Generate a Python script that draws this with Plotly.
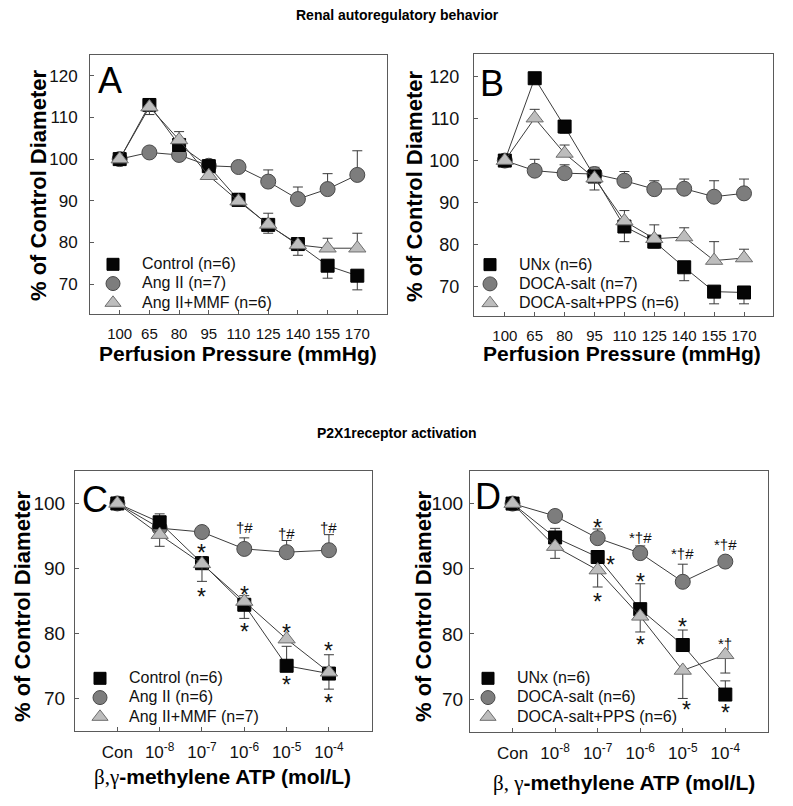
import plotly.graph_objects as go

W, H = 793, 806

# ---------------- data ----------------
pressure = ["100", "65", "80", "95", "110", "125", "140", "155", "170"]
conc = ["Con", "10<sup>-8</sup>", "10<sup>-7</sup>", "10<sup>-6</sup>", "10<sup>-5</sup>", "10<sup>-4</sup>"]

# Panel A
a_names = ["Control (n=6)", "Ang II (n=7)", "Ang II+MMF (n=6)"]
a_control = [100, 113.0, 103.4, 98.3, 90.2, 84.2, 79.6, 74.4, 72.0]
a_control_up = [0, 1.4, 0, 0, 1.6, 0, 1.4, 0, 0]
a_control_dn = [0, 0, 0, 0, 0, 2.0, 0, 3.0, 3.4]
a_ang = [100, 101.6, 101.0, 98.4, 98.1, 94.6, 90.4, 92.8, 96.2]
a_ang_up = [0, 0, 0, 0, 1.4, 2.8, 2.9, 3.7, 5.8]
a_ang_dn = [0, 0, 0, 0, 0, 0, 0, 0, 0]
a_mmf = [100, 112.5, 104.6, 96.0, 89.9, 84.3, 79.4, 78.6, 78.6]
a_mmf_up = [0, 0, 2.0, 0, 0, 2.7, 0, 2.4, 3.6]
a_mmf_dn = [0, 1.8, 0, 0, 0, 0, 2.5, 0, 0]
a_marks = [("65", 116.3, "*"), ("65", 107.9, "*"), ("65", 97.4, "†#"), ("80", 108.4, "*"),
           ("95", 92.6, "*"), ("110", 102.2, "†#"), ("110", 93.4, "*"), ("110", 86.4, "*"),
           ("125", 99.8, "†#"), ("125", 88.5, "*"), ("125", 79.8, "*"),
           ("140", 95.4, "*†#"), ("140", 82.8, "*"), ("140", 74.6, "*"),
           ("155", 99.0, "†#"), ("155", 82.6, "*"), ("155", 69.5, "*"),
           ("170", 104.6, "†#"), ("170", 83.4, "*"), ("170", 67.0, "*")]

# Panel B
b_names = ["UNx (n=6)", "DOCA-salt (n=7)", "DOCA-salt+PPS (n=6)"]
b_unx = [100, 119.6, 108.1, 96.2, 84.3, 80.7, 74.6, 68.8, 68.6]
b_unx_up = [0, 0, 0, 0, 0, 0, 0, 0, 0]
b_unx_dn = [0, 0, 1.6, 0, 3.6, 1.5, 3.2, 2.9, 2.7]
b_doca = [100, 97.6, 97.0, 96.8, 95.2, 93.2, 93.3, 91.4, 92.2]
b_doca_up = [0, 2.7, 2.0, 1.6, 2.2, 2.0, 2.3, 3.8, 3.4]
b_doca_dn = [0, 0, 0, 0, 0, 0, 0, 0, 0]
b_pps = [100, 110.1, 101.7, 95.8, 85.6, 81.4, 81.8, 76.2, 76.8]
b_pps_up = [0, 2.1, 2.0, 0, 2.5, 3.3, 2.2, 4.5, 2.1]
b_pps_dn = [0, 0, 0, 2.8, 0, 0, 0, 0, 0]
b_marks = [("65", 122.4, "*"), ("65", 114.2, "*†#"), ("65", 94.2, "†"), ("80", 111.3, "*"),
           ("80", 93.4, "†"), ("110", 89.9, "*"), ("110", 78.7, "*"),
           ("125", 97.6, "†#"), ("125", 86.3, "*"), ("125", 76.0, "*"),
           ("140", 98.4, "†#"), ("140", 85.5, "*"), ("140", 68.8, "*"),
           ("155", 98.0, "†#"), ("155", 82.5, "*"), ("155", 64.0, "*"),
           ("170", 97.8, "†#"), ("170", 80.5, "*"), ("170", 65.1, "*")]

# Panel C
c_names = ["Control (n=6)", "Ang II (n=6)", "Ang II+MMF (n=7)"]
c_control = [100, 97.1, 90.8, 84.4, 75.0, 73.8]
c_control_up = [0, 1.3, 1.0, 0, 3.0, 0]
c_control_dn = [0, 0, 0, 2.1, 0, 2.4]
c_ang = [100, 96.2, 95.6, 93.0, 92.5, 92.8]
c_ang_up = [0, 0, 0, 1.7, 1.8, 2.4]
c_ang_dn = [0, 0, 0, 0, 0, 0]
c_mmf = [100, 95.2, 90.7, 84.9, 79.1, 74.0]
c_mmf_up = [0, 0, 0, 0.9, 0, 2.7]
c_mmf_dn = [0, 1.8, 2.7, 0, 0, 0]
c_marks = [(conc[2], 93.1, "*"), (conc[2], 86.4, "*"),
           (conc[3], 96.3, "†#"), (conc[3], 86.7, "*"), (conc[3], 81.0, "*"),
           (conc[4], 95.4, "†#"), (conc[4], 80.8, "*"), (conc[4], 72.8, "*"),
           (conc[5], 96.3, "†#"), (conc[5], 78.0, "*"), (conc[5], 70.1, "*")]

# Panel D
d_names = ["UNx (n=6)", "DOCA-salt (n=6)", "DOCA-salt+PPS (n=6)"]
d_unx = [100, 94.8, 91.8, 83.8, 78.3, 70.7]
d_unx_up = [0, 1.4, 0, 3.9, 2.3, 2.1]
d_unx_dn = [0, 0, 0, 0, 0, 0]
d_doca = [100, 98.1, 94.7, 92.4, 88.0, 91.1]
d_doca_up = [0, 0, 1.4, 1.1, 2.7, 0]
d_doca_dn = [0, 0, 0, 0, 0, 0]
d_pps = [100, 93.4, 89.8, 82.7, 74.4, 76.8]
d_pps_up = [0, 0, 0, 0, 0, 0]
d_pps_dn = [0, 1.8, 2.6, 2.4, 4.3, 2.8]
d_marks = [(conc[2], 97.0, "*"), (conc[2], 85.7, "*"),
           (conc[3], 94.8, "*†#"), (conc[3], 88.8, "*"), (conc[3], 79.0, "*"),
           (conc[4], 92.3, "*†#"), (conc[4], 81.9, "*"),
           (conc[5], 93.7, "*†#"), (conc[5], 78.5, "*†"), (conc[5], 68.6, "*")]
d_side_marks = [(conc[2], 91.4, "*", 13), (conc[4], 69.1, "*", 4)]

# ---------------- styling ----------------
FONT = "Arial, Liberation Sans, sans-serif"
LINE = "#3c3c3c"
AX = "#5a5a5a"
STAR = 23
styles = [
    dict(symbol="square", size=13, color="#050505", line=dict(color="#000000", width=1)),
    dict(symbol="circle", size=15, color="#7d7d7d", line=dict(color="#4a4a4a", width=1)),
    dict(symbol="triangle-up", size=15, color="#bdbdbd", line=dict(color="#6e6e6e", width=1)),
]


def px_x(l, r):
    return [l / W, r / W]


def px_y(t, b):
    return [1 - b / H, 1 - t / H]


panels = [
    dict(key="", cats=pressure, names=a_names,
         series=[(a_control, a_control_up, a_control_dn), (a_ang, a_ang_up, a_ang_dn), (a_mmf, a_mmf_up, a_mmf_dn)],
         marks=a_marks, box=(90, 55, 387, 314), yr=[62.8, 125], xr=[-1, 9], yt=[70, 80, 90, 100, 110, 120],
         yfs=17, xfs=15, ystand=8, letter="A", lpos=(110, 80), leg=(113, 262.7)),
    dict(key="2", cats=pressure, names=b_names,
         series=[(b_unx, b_unx_up, b_unx_dn), (b_doca, b_doca_up, b_doca_dn), (b_pps, b_pps_up, b_pps_dn)],
         marks=b_marks, box=(474, 54.3, 772.7, 316), yr=[63, 125.3], xr=[-1.03, 8.96], yt=[70, 80, 90, 100, 110, 120],
         yfs=18, xfs=15, ystand=10, letter="B", lpos=(492, 83), leg=(490, 263)),
    dict(key="3", cats=conc, names=c_names,
         series=[(c_control, c_control_up, c_control_dn), (c_ang, c_ang_up, c_ang_dn), (c_mmf, c_mmf_up, c_mmf_dn)],
         marks=c_marks, box=(75, 471, 371.7, 730.7), yr=[65, 105], xr=[-1, 6.01], yt=[70, 80, 90, 100],
         yfs=19, xfs=17, ystand=5, letter="C", lpos=(95, 499), leg=(100, 676.7)),
    dict(key="4", cats=conc, names=d_names,
         series=[(d_unx, d_unx_up, d_unx_dn), (d_doca, d_doca_up, d_doca_dn), (d_pps, d_pps_up, d_pps_dn)],
         marks=d_marks, box=(470, 471, 768.3, 731.7), yr=[65, 105], xr=[-1, 6.01], yt=[70, 80, 90, 100],
         yfs=19, xfs=17, ystand=2, letter="D", lpos=(488, 496), leg=(488, 676.7)),
]

fig = go.Figure()
annotations = []
layout = {}

for p in panels:
    k = p["key"]
    xa, ya = "x" + k, "y" + k
    l, t, r, b = p["box"]
    # data traces: circles first, then squares, then triangles on top
    for idx in [1, 0, 2]:
        vals, up, dn = p["series"][idx]
        st = styles[idx]
        fig.add_trace(go.Scatter(
            x=p["cats"], y=vals, xaxis=xa, yaxis=ya, mode="lines+markers",
            line=dict(color=LINE, width=1),
            marker=dict(symbol=st["symbol"], size=st["size"], color=st["color"], line=st["line"]),
            error_y=dict(type="data", symmetric=False, array=up, arrayminus=dn,
                         color="#3a3a3a", thickness=1, width=5),
            showlegend=False, hoverinfo="skip"))
    # legend-only traces
    legname = "legend" + k
    for idx in range(3):
        st = styles[idx]
        fig.add_trace(go.Scatter(
            x=[None], y=[None], xaxis=xa, yaxis=ya, mode="markers",
            name="<span style='font-size:16px'>%s</span>" % p["names"][idx],
            marker=dict(symbol=st["symbol"], size=st["size"] - 1, color=st["color"], line=st["line"]),
            showlegend=True, legend=legname))
    mx, my = p["leg"]
    layout[legname] = dict(x=(mx - 29) / W, y=1 - (my - 13) / H, xanchor="left", yanchor="top",
                           bgcolor="rgba(0,0,0,0)", borderwidth=0, itemwidth=48,
                           font=dict(family=FONT, size=12.5, color="#111"),
                           tracegroupgap=0, itemclick=False, itemdoubleclick=False)
    layout["xaxis" + k] = dict(domain=px_x(l, r), range=p["xr"], type="category",
                               anchor=ya, showline=True, mirror=True, linecolor=AX, linewidth=1,
                               ticks="inside", ticklen=4, tickcolor=AX, showgrid=False, zeroline=False,
                               tickfont=dict(family=FONT, size=p["xfs"], color="#111"),
                               ticklabelstandoff=6, fixedrange=True)
    layout["yaxis" + k] = dict(domain=px_y(t, b), range=p["yr"], anchor=xa,
                               showline=True, mirror=True, linecolor=AX, linewidth=1,
                               ticks="inside", ticklen=4, tickcolor=AX, showgrid=False, zeroline=False,
                               tickvals=p["yt"], tickfont=dict(family=FONT, size=p["yfs"], color="#111"),
                               ticklabelstandoff=p["ystand"], fixedrange=True)
    # significance marks
    for cat, yv, txt in p["marks"]:
        star = txt == "*"
        annotations.append(dict(x=cat, y=yv, xref=xa, yref=ya, text=txt, showarrow=False,
                                xanchor="center", yanchor="middle",
                                font=dict(family=FONT, size=STAR if star else 15, color="#111"),
                                yshift=-5 if star else 0))
    # panel letter
    lx, ly = p["lpos"]
    annotations.append(dict(x=lx / W, y=1 - ly / H, xref="paper", yref="paper", text=p["letter"],
                            xanchor="center", yanchor="middle",
                            showarrow=False, font=dict(family=FONT, size=36, color="#000")))

for cat, yv, txt, xs in d_side_marks:
    annotations.append(dict(x=cat, y=yv, xref="x4", yref="y4", text=txt, showarrow=False, xshift=xs,
                            xanchor="center", yanchor="middle",
                            yshift=-5, font=dict(family=FONT, size=STAR, color="#111")))


# axis titles and section titles
def paper_text(x, y, text, size, angle=0):
    annotations.append(dict(x=x / W, y=1 - y / H, xref="paper", yref="paper", showarrow=False,
                            xanchor="center", yanchor="middle",
                            text="<b>%s</b>" % text, textangle=angle,
                            font=dict(family=FONT, size=size, color="#000")))


GREEK = "<span style='font-family:Times New Roman, Liberation Serif, serif;font-weight:normal'>%s</span>"
paper_text(397, 15, "Renal autoregulatory behavior", 14)
paper_text(397, 433, "P2X1receptor activation", 14)
paper_text(38, 186, "% of Control Diameter", 22, angle=-90)
paper_text(414, 186, "% of Control Diameter", 22, angle=-90)
paper_text(22, 607, "% of Control Diameter", 22, angle=-90)
paper_text(423, 607, "% of Control Diameter", 22, angle=-90)
paper_text(238, 353, "Perfusion Pressure (mmHg)", 21)
paper_text(622, 353, "Perfusion Pressure (mmHg)", 21)
paper_text(222, 777, (GREEK % "β,γ") + "-methylene ATP (mol/L)", 21)
paper_text(624, 783, (GREEK % "β, γ") + "-methylene ATP (mol/L)", 21)

fig.update_layout(width=W, height=H, margin=dict(l=0, r=0, t=0, b=0),
                  paper_bgcolor="white", plot_bgcolor="white",
                  annotations=annotations, showlegend=True, **layout)

fig.write_html("out.html", config={"displayModeBar": False},
               post_script="document.body.style.margin='0px';")
